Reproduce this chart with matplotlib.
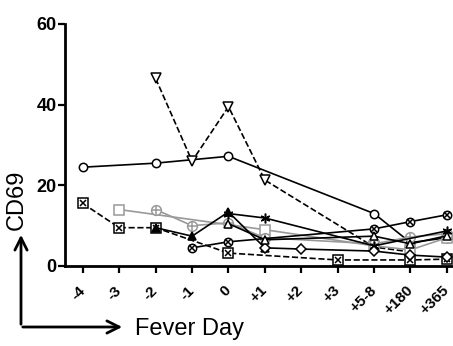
import numpy as np
import matplotlib
matplotlib.use('Agg')
import matplotlib.pyplot as plt

############################### DATA ##########################################

days = ['-4', '-3', '-2', '-1', '0', '+1', '+2', '+3', '+5-8', '+180', '+365']

# open circle, solid black
circ_x = [0, 2, 4, 8, 9, 10]
circ_y = [24.5, 25.5, 27.2, 13.0, 5.8, 7.0]
# open down-triangle, dashed black
tri_dn_x = [2, 3, 4, 5, 8, 9]
tri_dn_y = [46.5, 26.0, 39.5, 21.3, 4.7, 3.5]
# circle with x, solid black
ocx_x = [3, 4, 8, 9, 10]
ocx_y = [4.5, 6.0, 9.2, 11.0, 12.7]
# square with x, dashed black
sqx_x = [0, 1, 2, 4, 7, 9, 10]
sqx_y = [15.5, 9.5, 9.5, 3.2, 1.5, 1.5, 1.7]
# open square, grey
sq_x = [1, 5, 8, 9, 10]
sq_y = [14.0, 9.0, 5.0, 4.0, 7.0]
# circle with plus, grey
cpl_x = [2, 3, 4, 5, 8, 9, 10]
cpl_y = [14.0, 10.0, 10.7, 7.0, 5.5, 7.2, 8.0]
# asterisk, solid black
ast_x = [4, 5, 8, 10]
ast_y = [13.0, 11.9, 5.0, 8.7]
# filled triangle, solid black
tri_x = [2, 3, 4, 5]
tri_y = [9.5, 7.4, 13.4, 4.5]
# open diamond, solid black
dia_x = [5, 6, 8, 9, 10]
dia_y = [4.5, 4.2, 3.7, 2.7, 2.2]
# open triangle, solid black
otr_x = [4, 5, 8, 9, 10]
otr_y = [10.5, 6.5, 7.4, 5.5, 7.5]

############################### PLOT ##########################################

plt.rcParams['font.family'] = ['Liberation Sans', 'DejaVu Sans']

W, H = 453, 346
fig = plt.figure(figsize=(W/100, H/100), dpi=100)
ax = fig.add_axes([65/W, (H-266)/H, (452-65)/W, (266-24)/H])

blk = 'black'
gry = '#999999'
ms = 6
lw = 1.2
kw = dict(clip_on=False, mew=1.1)

ax.plot(circ_x, circ_y, '-', color=blk, lw=lw, marker='o', ms=ms, mfc='white', mec=blk, **kw)
ax.plot(tri_dn_x, tri_dn_y, '--', color=blk, lw=lw, marker='v', ms=ms+1, mfc='white', mec=blk, **kw)
ax.plot(sq_x, sq_y, '-', color=gry, lw=lw, marker='s', ms=ms+1, mfc='white', mec=gry, **kw)
ax.plot(cpl_x, cpl_y, '-', color=gry, lw=lw, marker='o', ms=ms+1, mfc='white', mec=gry, **kw)
ax.plot(cpl_x, cpl_y, ' ', marker='+', ms=ms+1, mec=gry, **kw)
ax.plot(ocx_x, ocx_y, '-', color=blk, lw=lw, marker='o', ms=ms, mfc='white', mec=blk, **kw)
ax.plot(ocx_x, ocx_y, ' ', marker='x', ms=ms-2, mec=blk, **kw)
ax.plot(sqx_x, sqx_y, '--', color=blk, lw=lw, marker='s', ms=ms+1, mfc='white', mec=blk, **kw)
ax.plot(sqx_x, sqx_y, ' ', marker='x', ms=ms-1, mec=blk, **kw)
ax.plot(ast_x, ast_y, '-', color=blk, lw=lw, marker=(6, 2, 0), ms=ms+1, mec=blk, **kw)
ax.plot(tri_x, tri_y, '-', color=blk, lw=lw, marker='^', ms=ms, mfc=blk, mec=blk, **kw)
ax.plot(dia_x, dia_y, '-', color=blk, lw=lw, marker='D', ms=ms-0.5, mfc='white', mec=blk, **kw)
ax.plot(otr_x, otr_y, '-', color=blk, lw=lw, marker='^', ms=ms, mfc='white', mec=blk, **kw)

ax.set_xlim(-0.49, 10.14)
ax.set_ylim(0, 60)
ax.set_yticks([0, 20, 40, 60])
ax.set_xticks(range(len(days)))
ax.set_xticklabels(days, rotation=45, ha='right', va='center', rotation_mode='anchor')
for lab in ax.get_xticklabels():
    lab.set_fontweight('bold')
    lab.set_fontsize(11)
for lab in ax.get_yticklabels():
    lab.set_fontweight('bold')
    lab.set_fontsize(13)

for s in ['top', 'right']:
    ax.spines[s].set_visible(False)
for s in ['left', 'bottom']:
    ax.spines[s].set_linewidth(2)
ax.tick_params(axis='both', width=1.6, length=5, pad=1)
ax.tick_params(axis='x', pad=11)

# pijlen en labels
fig.patches.append(matplotlib.patches.FancyArrowPatch(
    (21, H-327), (21, H-232), transform=None, arrowstyle='->',
    mutation_scale=22, lw=2, color=blk))
fig.patches.append(matplotlib.patches.FancyArrowPatch(
    (20, H-327), (125, H-327), transform=None, arrowstyle='->',
    mutation_scale=22, lw=2, color=blk))
fig.text(135/W, (H-329)/H, 'Fever Day', fontsize=17, va='center', ha='left')
fig.text(17/W, (H-200)/H, 'CD69', fontsize=17, rotation=90, va='center', ha='center')

fig.savefig('out.png', dpi=100)
